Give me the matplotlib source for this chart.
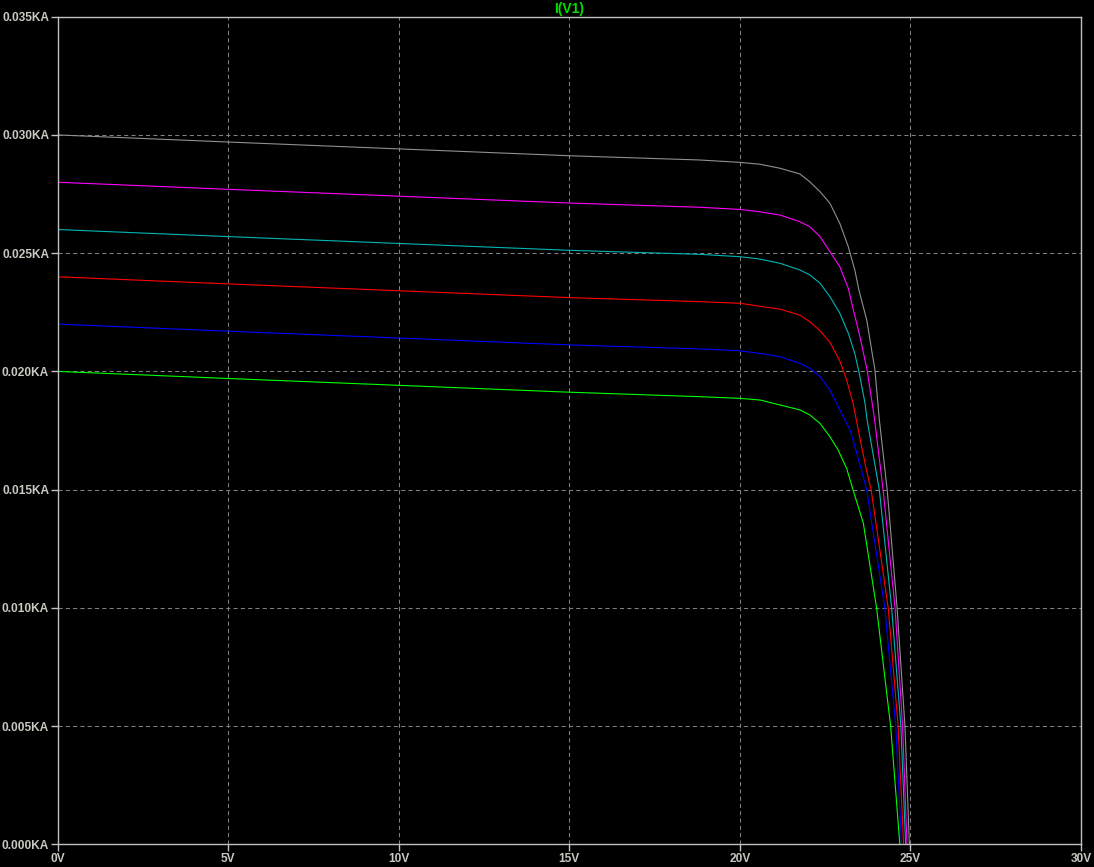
import matplotlib
matplotlib.use("Agg")
import matplotlib.pyplot as plt
from matplotlib.ticker import FuncFormatter

# ---- data (V in volts, I in kA) ----
v_green = [0, 5, 10, 15, 18.83, 20.0, 20.59, 21.18, 21.76, 22.05, 22.35, 22.64, 22.88, 23.13, 23.32, 23.62, 24.01, 24.42, 24.69]
i_green = [0.02000, 0.01970, 0.01941, 0.01912, 0.01893, 0.01886, 0.01879, 0.01858, 0.01837, 0.01816, 0.01780, 0.01724, 0.01668, 0.01590, 0.01498, 0.01358, 0.00998, 0.00500, 0.0]

v_blue = [0, 5, 10, 15, 18.83, 20.0, 20.59, 21.18, 21.76, 22.05, 22.35, 22.64, 22.93, 23.23, 23.40, 23.55, 23.72, 24.25, 24.57, 24.74]
i_blue = [0.02200, 0.02170, 0.02141, 0.02112, 0.02095, 0.02087, 0.02076, 0.02062, 0.02034, 0.02013, 0.01978, 0.01921, 0.01837, 0.01753, 0.01668, 0.01590, 0.01498, 0.00999, 0.00500, 0.0]

v_red = [0, 5, 10, 15, 18.83, 20.0, 21.18, 21.76, 22.05, 22.35, 22.64, 22.93, 23.13, 23.32, 23.47, 23.61, 23.70, 23.85, 24.35, 24.64, 24.80]
i_red = [0.02400, 0.02370, 0.02341, 0.02312, 0.02295, 0.02288, 0.02263, 0.02238, 0.02210, 0.02172, 0.02123, 0.02045, 0.01964, 0.01865, 0.01753, 0.01654, 0.01590, 0.01498, 0.00999, 0.00500, 0.0]

v_cyan = [0, 5, 10, 15, 18.83, 20.0, 20.59, 21.18, 21.76, 22.05, 22.35, 22.64, 22.93, 23.18, 23.37, 23.52, 23.67, 23.73, 24.09, 24.45, 24.72, 24.86]
i_cyan = [0.02600, 0.02570, 0.02541, 0.02512, 0.02495, 0.02485, 0.02475, 0.02457, 0.02429, 0.02408, 0.02373, 0.02316, 0.02246, 0.02161, 0.02076, 0.01978, 0.01865, 0.01795, 0.01498, 0.00999, 0.00500, 0.0]

v_magenta = [0, 5, 10, 15, 18.83, 20.0, 20.59, 21.18, 21.76, 22.05, 22.35, 22.64, 22.93, 23.18, 23.28, 23.52, 23.73, 23.94, 24.20, 24.55, 24.77, 24.90]
i_magenta = [0.02800, 0.02770, 0.02741, 0.02712, 0.02694, 0.02685, 0.02675, 0.02661, 0.02633, 0.02612, 0.02570, 0.02506, 0.02443, 0.02351, 0.02288, 0.02147, 0.02006, 0.01808, 0.01498, 0.00999, 0.00500, 0.0]

v_gray = [0, 5, 10, 15, 18.83, 20.0, 20.59, 21.18, 21.76, 22.05, 22.35, 22.64, 22.93, 23.18, 23.37, 23.49, 23.72, 23.96, 24.09, 24.32, 24.61, 24.84, 24.97]
i_gray = [0.03000, 0.02970, 0.02941, 0.02912, 0.02894, 0.02884, 0.02876, 0.02859, 0.02835, 0.02802, 0.02760, 0.02711, 0.02626, 0.02527, 0.02429, 0.02344, 0.02217, 0.02006, 0.01794, 0.01498, 0.00999, 0.00500, 0.0]

x_ticks = [0, 5, 10, 15, 20, 25, 30]
y_ticks = [0.000, 0.005, 0.010, 0.015, 0.020, 0.025, 0.030, 0.035]
title = "I(V1)"

series = [
    (v_green, i_green, "#00ff00"),
    (v_blue, i_blue, "#0000ff"),
    (v_red, i_red, "#ff0000"),
    (v_cyan, i_cyan, "#00b4b4"),
    (v_magenta, i_magenta, "#ff00ff"),
    (v_gray, i_gray, "#909090"),
]

fig = plt.figure(figsize=(10.94, 8.67), dpi=100, facecolor="black")
ax = fig.add_axes([57.5 / 1094, 1 - 844.3 / 867, (1081 - 57.5) / 1094, (844.3 - 16.7) / 867])
ax.set_facecolor("black")

for v, i, c in series:
    ax.plot(v, i, color=c, lw=0.8, solid_joinstyle="round")

ax.set_xlim(0, 30)
ax.set_ylim(0, 0.035)
ax.set_xticks(x_ticks)
ax.set_yticks(y_ticks)
ax.xaxis.set_major_formatter(FuncFormatter(lambda x, p: f"{x:g}V"))
ax.yaxis.set_major_formatter(FuncFormatter(lambda y, p: f"{y:.3f}KA"))

ax.grid(True, color="#808080", linestyle=(0, (4, 3)), linewidth=0.75)
ax.set_axisbelow(True)

for s in ax.spines.values():
    s.set_color("#c0c0c0")
    s.set_linewidth(1.0)

ax.tick_params(axis="both", colors="#c0c0c0", length=5, width=1, direction="out", pad=1)
for lab in ax.get_xticklabels() + ax.get_yticklabels():
    lab.set_fontfamily("Liberation Sans")
    lab.set_fontweight("bold")
    lab.set_fontsize(8.6)
    lab.set_color("#c8c8c0")

ax.set_title(title, color="#00e000", fontfamily="Liberation Sans", fontweight="bold", fontsize=10, pad=3)

fig.savefig("out.png", dpi=100, facecolor="black")
